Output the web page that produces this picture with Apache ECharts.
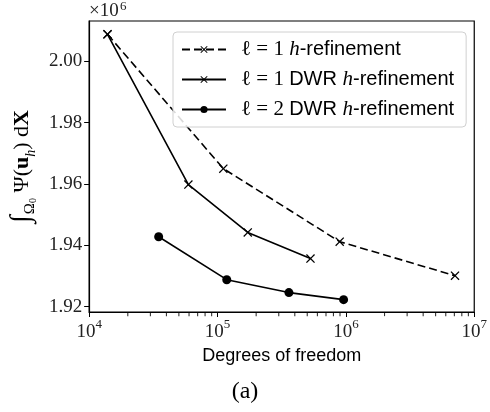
<!DOCTYPE html>
<html><head><meta charset="utf-8">
<script src="https://cdn.jsdelivr.net/npm/echarts@6/dist/echarts.min.js"></script>
<style>html,body{margin:0;padding:0;background:#fff}#c{width:490px;height:412px}</style>
</head><body><div id="c"></div>
<script>
// ---- data ----
const seriesNames = ['ℓ = 1 h-refinement', 'ℓ = 1 DWR h-refinement', 'ℓ = 2 DWR h-refinement'];
const dofH1   = [1.39e4, 1.11e5, 8.95e5, 7.08e6];
const valH1   = [2.0088e6, 1.9650e6, 1.9412e6, 1.9301e6];
const dofDWR1 = [1.39e4, 5.93e4, 1.72e5, 5.3e5];
const valDWR1 = [2.0088e6, 1.9598e6, 1.9442e6, 1.9357e6];
const dofDWR2 = [3.48e4, 1.18e5, 3.6e5, 9.6e5];
const valDWR2 = [1.9428e6, 1.9288e6, 1.9246e6, 1.9223e6];
const yTicks = [1.92e6, 1.94e6, 1.96e6, 1.98e6, 2.00e6];
const xMinorTicks = [2e4,3e4,4e4,5e4,6e4,7e4,8e4,9e4,2e5,3e5,4e5,5e5,6e5,7e5,8e5,9e5,2e6,3e6,4e6,5e6,6e6,7e6,8e6,9e6];
const xLabel = 'Degrees of freedom';
const caption = '(a)';

const SERIF = '"Liberation Serif","DejaVu Serif",serif';
const SANS = '"Liberation Sans","DejaVu Sans",sans-serif';
const XMARK = 'path://M1,0L5,4L9,0L10,1L6,5L10,9L9,10L5,6L1,10L0,9L4,5L0,1Z';
const Y_MIN = 1.91827e6, Y_MAX = 2.01313e6;

const zip = (a, b) => a.map((v, i) => [v, b[i]]);

const chart = echarts.init(document.getElementById('c'), null, {renderer: 'canvas'});
chart.setOption({
  animation: false,
  backgroundColor: '#fff',
  grid: {left: 88, right: 11, top: 21, bottom: 100, show: true, borderColor: '#000', borderWidth: 1.2, backgroundColor: 'transparent'},
  xAxis: {
    type: 'log', logBase: 10, min: 1e4, max: 1e7,
    axisLine: {show: true, onZero: false, lineStyle: {color: '#000', width: 1.2}},
    axisTick: {show: true, inside: false, length: 5, lineStyle: {color: '#000', width: 1}},
    splitLine: {show: false},
    axisLabel: {
      margin: 6, color: '#222',
      formatter: v => '{b|10}{s|' + Math.round(Math.log10(v)) + '}',
      rich: {
        b: {fontFamily: SERIF, fontSize: 19, color: '#222', verticalAlign: 'bottom', lineHeight: 24},
        s: {fontFamily: SERIF, fontSize: 13, color: '#222', verticalAlign: 'top', lineHeight: 24}
      }
    },
    name: xLabel, nameLocation: 'middle', nameGap: 28,
    nameTextStyle: {fontFamily: SANS, fontSize: 18, color: '#000'}
  },
  yAxis: {
    type: 'value', min: Y_MIN, max: Y_MAX,
    axisLine: {show: true, onZero: false, lineStyle: {color: '#000', width: 1.2}},
    axisTick: {show: true, inside: false, length: 5, lineStyle: {color: '#000', width: 1}, customValues: yTicks},
    splitLine: {show: false},
    axisLabel: {
      customValues: yTicks, margin: 7, fontFamily: SERIF, fontSize: 19, color: '#222',
      formatter: v => (v / 1e6).toFixed(2)
    },
    name: '{int|∫}{sub|Ω}{sub0|0}{n| Ψ(}{b|u}{hs|h}{n|) d}{b|X}',
    nameLocation: 'middle', nameRotate: 90, nameGap: 48,
    nameTextStyle: {
      rich: {
        int: {fontFamily: SERIF, fontSize: 28, color: '#000', verticalAlign: 'middle', lineHeight: 32},
        sub: {fontFamily: SERIF, fontSize: 15, color: '#000', verticalAlign: 'bottom', lineHeight: 22, padding: [0,0,0,1]},
        sub0: {fontFamily: SERIF, fontSize: 10, color: '#000', verticalAlign: 'bottom', lineHeight: 19},
        n: {fontFamily: SERIF, fontSize: 22, color: '#000', verticalAlign: 'middle', lineHeight: 32},
        b: {fontFamily: SERIF, fontSize: 22, fontWeight: 'bold', color: '#000', verticalAlign: 'middle', lineHeight: 32},
        hs: {fontFamily: SERIF, fontSize: 14, fontStyle: 'italic', color: '#000', verticalAlign: 'bottom', lineHeight: 25}
      }
    }
  },
  legend: {
    left: 173, top: 32, orient: 'vertical',
    data: seriesNames,
    itemWidth: 44, itemHeight: 9, itemGap: 9,
    padding: [7, 12, 7, 8],
    borderColor: '#d0d0d0', borderWidth: 1, borderRadius: 4,
    backgroundColor: 'rgba(255,255,255,0.85)',
    formatter: n => {
      const m = n.match(/^ℓ = (\d) (DWR )?h-refinement$/);
      return '{sr|ℓ = ' + m[1] + ' }' + (m[2] ? '{sa|DWR }' : '') + '{it|h}{sa|-refinement}';
    },
    textStyle: {
      rich: {
        sr: {fontFamily: SERIF, fontSize: 21, color: '#000', padding: [0, 0, 0, 10], lineHeight: 22},
        sa: {fontFamily: SANS, fontSize: 20, color: '#000', lineHeight: 22},
        it: {fontFamily: SERIF, fontSize: 21, fontStyle: 'italic', color: '#000', lineHeight: 22}
      }
    }
  },
  graphic: [
    {type: 'text', left: 89, top: 2, style: {text: '×10', font: '19px ' + SERIF, fill: '#222'}},
    {type: 'text', left: 120, top: 0, style: {text: '6', font: '13px ' + SERIF, fill: '#222'}},
    {type: 'text', left: 'center', top: 380, style: {text: caption, font: '24px ' + SERIF, fill: '#000'}}
  ],
  series: [
    {name: seriesNames[0], type: 'line', data: zip(dofH1, valH1),
     symbol: XMARK, symbolSize: 9, showSymbol: true,
     lineStyle: {color: '#000', width: 1.6, type: [8, 4]}, itemStyle: {color: '#000'}},
    {name: seriesNames[1], type: 'line', data: zip(dofDWR1, valDWR1),
     symbol: XMARK, symbolSize: 9,
     lineStyle: {color: '#000', width: 1.6}, itemStyle: {color: '#000'}},
    {name: seriesNames[2], type: 'line', data: zip(dofDWR2, valDWR2),
     symbol: 'circle', symbolSize: 9,
     lineStyle: {color: '#000', width: 1.6}, itemStyle: {color: '#000'}},
    {name: 'minorTicks', type: 'scatter', data: xMinorTicks.map(v => [v, Y_MIN]),
     symbol: 'rect', symbolSize: [1.1, 3.5], symbolOffset: [0, 2.4], clip: false, silent: true,
     itemStyle: {color: '#000'}, z: 5}
  ]
});
</script>
</body></html>
